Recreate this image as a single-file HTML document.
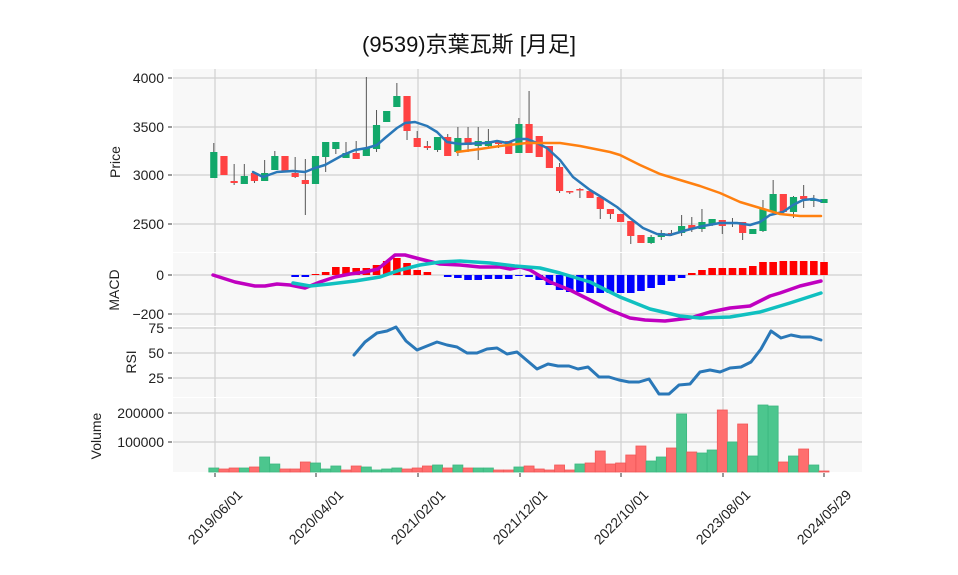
<!DOCTYPE html>
<html><head><meta charset="utf-8"><style>
body{margin:0;background:#fff;}
svg{display:block;font-family:"Liberation Sans","DejaVu Sans","Noto Sans CJK JP",sans-serif;}
</style></head><body>
<svg id="s" width="958" height="575" xmlns="http://www.w3.org/2000/svg">
<rect width="958" height="575" fill="#fff"/>
<text x="469" y="52" font-size="22" text-anchor="middle" fill="#111" font-family="'Liberation Sans','Noto Sans CJK JP',sans-serif">(9539)京葉瓦斯  [月足]</text>
<g id="bg"></g>
<g id="g"></g>
</svg>
<script>
const NS="http://www.w3.org/2000/svg";
const G=document.getElementById('g'),B=document.getElementById('bg');
function el(p,t,a,txt){const e=document.createElementNS(NS,t);for(const k in a)e.setAttribute(k,a[k]);if(txt!==undefined)e.textContent=txt;p.appendChild(e);return e;}
const L=173,R=862;
const panels=[[69,252],[253,326],[327,397],[398,472]];
panels.forEach(p=>el(B,'rect',{x:L,y:p[0],width:R-L,height:p[1]-p[0],fill:'#f8f8f8'}));
const ticksX=[215,316,418,520,621,723,824];
const labels=['2019/06/01','2020/04/01','2021/02/01','2021/12/01','2022/10/01','2023/08/01','2024/05/29'];
panels.forEach(p=>ticksX.forEach(x=>el(B,'line',{x1:x,x2:x,y1:p[0],y2:p[1],stroke:'#d0d0d0','stroke-width':1.2})));
function hgrid(y,lab){el(B,'line',{x1:L,x2:R,y1:y,y2:y,stroke:'#d0d0d0','stroke-width':1.2});
 el(B,'line',{x1:168,x2:172,y1:y,y2:y,stroke:'#333'});
 el(B,'text',{x:164,y:y+5,'font-size':14,'text-anchor':'end',fill:'#222'},lab);}
hgrid(78,'4000');hgrid(127,'3500');hgrid(175,'3000');hgrid(224,'2500');
hgrid(275,'0');hgrid(314,'−200');
hgrid(328,'75');hgrid(353,'50');hgrid(378,'25');
hgrid(413,'200000');hgrid(442,'100000');
function ylab(x,y,t){el(B,'text',{x:x,y:y,'font-size':14,'text-anchor':'middle',fill:'#222',transform:`rotate(-90 ${x} ${y})`},t);}
ylab(120,162,'Price');ylab(119,290,'MACD');ylab(136,362,'RSI');ylab(101,436,'Volume');
ticksX.forEach((x,i)=>{el(B,'line',{x1:x,x2:x,y1:473,y2:477,stroke:'#333'});
 el(B,'text',{x:x,y:522,'font-size':14,'text-anchor':'middle',fill:'#222',transform:`rotate(-45 ${x} ${517})`},labels[i]);});
const X=i=>213.8+i*10.17;
const GC='#12a86a',RC='#ff4242';
const C=[[152,178,143,178,'g'],[156,175,156,175,'r'],[181,183,164,185,'r'],[176,184,164,184,'g'],[173,181,172,183,'r'],[173,181,160,181,'g'],[156,170,151,170,'g'],[156,171,156,171,'r'],[173,177,157,178,'r'],[180,184,159,215,'r'],
[156,184,156,184,'g'],[142,157,142,172,'g'],[142,149,142,154,'g'],[153,158,142,158,'g'],[153,159,141,159,'r'],[148,156,77,156,'g'],[125,149,110,152,'g'],[111,122,111,122,'g'],[96,107,83,107,'g'],[96,131,96,140,'r'],
[138,147,131,147,'r'],[146,148,141,150,'r'],[137,150,137,152,'g'],[137,156,134,156,'r'],[138,152,127,156,'g'],[138,145,127,152,'r'],[141,146,127,160,'g'],[141,146,129,148,'g'],[141,144,140,148,'r'],[141,154,141,154,'r'],
[124,153,118,153,'g'],[124,153,91,153,'r'],[136,157,136,157,'r'],[146,168,146,168,'r'],[167,191,163,193,'r'],[191,192,191,194,'r'],[189,190,188,198,'r'],[191,198,190,198,'r'],[197,209,197,219,'r'],[209,214,209,219,'r'],
[214,222,214,222,'r'],[221,236,221,244,'r'],[235,243,235,243,'r'],[237,243,235,244,'g'],[233,237,230,240,'g'],[233,235,230,236,'r'],[226,233,215,236,'g'],[225,229,217,232,'r'],[222,229,209,232,'g'],[219,225,219,226,'g'],
[220,226,220,234,'r'],[222,224,218,227,'g'],[222,233,222,240,'r'],[229,234,229,234,'g'],[209,231,200,232,'g'],[194,212,180,213,'g'],[194,212,194,212,'r'],[197,212,196,218,'g'],[196,199,185,208,'r'],[199,201,195,207,'g'],[199,203,199,203,'g']];
C.forEach((c,i)=>{const x=X(i);el(G,'line',{x1:x,x2:x,y1:c[2],y2:c[3],stroke:'#555','stroke-width':1});
 el(G,'rect',{x:x-3.6,y:c[0],width:7.2,height:Math.max(1.5,c[1]-c[0]),fill:c[4]=='g'?GC:RC});});
function line(pts,col,w){el(G,'polyline',{points:pts.map(p=>p.join(',')).join(' '),fill:'none',stroke:col,'stroke-width':w,'stroke-linejoin':'round','stroke-linecap':'round'});}
line([[253,172],[263,177],[277,172],[293,171],[305,172],[315,168],[325,165],[343,155],[355,150],[367,148],[377,145],[385,138],[397,128],[405,123],[415,122],[427,126],[437,132],[447,142],[460,144],[487,143],[497,141],[507,143],[517,139],[527,139],[537,143],[547,148],[560,160],[573,177],[590,190],[603,198],[617,207],[630,218],[643,228],[657,234],[670,235],[687,230],[703,226],[720,223],[737,223],[750,225],[760,222],[770,215],[783,212],[793,205],[803,200],[813,199],[821,201]],'#2a78b8',2.5);
line([[457,152],[480,149],[500,146],[527,143],[560,143],[580,146],[610,152],[620,155],[640,165],[660,174],[680,180],[700,186],[720,193],[740,202],[760,208],[780,214],[800,216],[821,216]],'#ff8010',2.5);
const H={8:-2,9:-2,10:1,11:3,12:8,13:8,14:7,15:7,16:10,17:14,18:17,19:12,20:5,21:3,23:-2,24:-3,25:-5,26:-5,27:-4,28:-4,29:-4,30:-1,31:-2,32:-5,33:-10,34:-15,35:-17,36:-17,37:-18,38:-18,39:-18,40:-18,41:-18,42:-16,43:-13,44:-10,45:-6,46:-3,47:2,48:5,49:7,50:7,51:7,52:7,53:9,54:13,55:13,56:14,57:14,58:14,59:14,60:13};
for(const k in H){const v=H[k],x=X(+k);el(G,'rect',{x:x-3.8,y:v>0?275-v:275,width:7.6,height:Math.abs(v),fill:v>0?'#ff0000':'#0000ff'});}
line([[213,275],[235,282],[255,286],[265,286],[277,284],[290,285],[305,288],[320,282],[335,277],[350,274],[365,272],[378,269],[395,255],[405,255],[420,259],[440,264],[460,265],[480,267],[500,267],[510,269],[520,267],[530,270],[550,282],[570,290],[590,300],[610,310],[630,318],[645,320],[665,321],[690,318],[710,312],[730,308],[750,306],[770,296],[780,293],[800,286],[821,281]],'#c000c0',3.5);
line([[293,283],[310,286],[330,284],[355,281],[380,277],[400,270],[420,265],[440,262],[460,261],[490,263],[515,266],[540,268],[560,273],[590,282],[620,297],[650,309],[680,316],[700,318],[730,317],[760,312],[790,303],[821,293]],'#10c0c0',3.5);
line([[354,355],[365,342],[377,333],[387,331],[396,327],[406,341],[417,350],[437,342],[447,345],[457,347],[467,353],[477,353],[487,349],[497,348],[507,354],[517,352],[537,369],[548,364],[558,366],[569,366],[578,369],[588,367],[599,377],[609,377],[619,380],[629,382],[639,382],[649,379],[659,394],[669,394],[679,385],[690,384],[700,372],[710,370],[720,372],[730,368],[741,367],[751,362],[761,349],[771,331],[781,338],[791,335],[801,337],[811,337],[821,340]],'#2a78b8',3);
const V=[[468,'g'],[469,'r'],[468,'r'],[468,'g'],[467,'r'],[457,'g'],[464,'g'],[469,'r'],[469,'r'],[462,'r'],[463,'g'],[469,'g'],[466,'g'],[470,'r'],[466,'r'],[467,'g'],[470,'g'],[469,'g'],[468,'g'],[469,'r'],[468,'r'],[466,'r'],[465,'g'],[468,'r'],[465,'g'],[468,'r'],[468,'g'],[468,'g'],[470,'r'],[470,'r'],[467,'g'],[466,'r'],[469,'r'],[470,'r'],[465,'r'],[470,'r'],[464,'g'],[463,'r'],[451,'r'],[464,'r'],[463,'r'],[455,'r'],[446,'r'],[461,'g'],[457,'g'],[448,'r'],[414,'g'],[452,'r'],[453,'g'],[450,'g'],[410,'r'],[442,'g'],[424,'r'],[456,'g'],[405,'g'],[406,'g'],[462,'r'],[456,'g'],[449,'r'],[465,'g'],[471,'r']];
V.forEach((v,i)=>{const x=X(i);el(G,'rect',{x:x-5,y:v[0],width:10,height:472-v[0],fill:v[1]=='g'?'#4cc68e':'#ff6e6e',stroke:v[1]=='g'?'#3cb880':'#f05858','stroke-width':0.8});});
</script>
</body></html>
